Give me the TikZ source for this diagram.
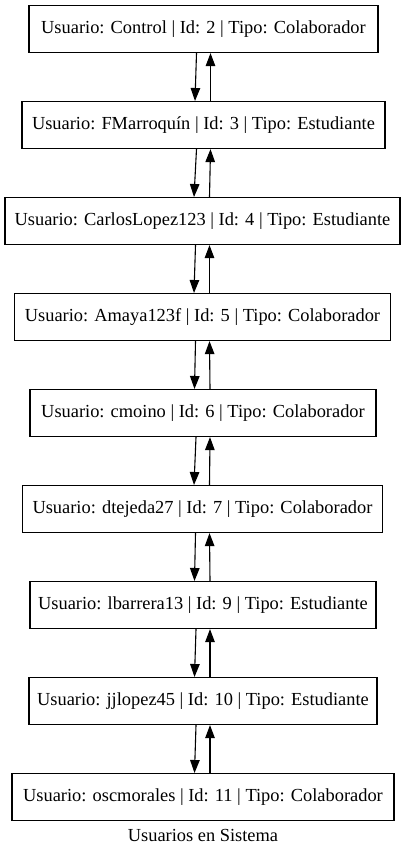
\documentclass[tikz,border=0pt]{standalone}
\usepackage{fontspec}
\setmainfont{Liberation Serif}
\usetikzlibrary{arrows.meta}
\begin{document}
\begin{tikzpicture}[x=1pt,y=-1pt,
  ubox/.style={draw=black, line width=1.1pt, minimum height=47pt, inner sep=0pt, font=\fontsize{18.4}{20}\selectfont, anchor=north},
  link/.style={line width=1.1pt, -{Triangle[length=13pt,width=9.5pt]}}]
\useasboundingbox (0,0) rectangle (405,857);
\node[ubox, minimum width=349pt] (n1) at (203.5,5) {Usuario: Control | Id: 2 | Tipo: Colaborador};
\node[ubox, minimum width=363pt] (n2) at (203.5,101) {Usuario: FMarroquín | Id: 3 | Tipo: Estudiante};
\node[ubox, minimum width=395pt] (n3) at (202.5,197) {Usuario: CarlosLopez123 | Id: 4 | Tipo: Estudiante};
\node[ubox, minimum width=376pt] (n4) at (202.5,293) {Usuario: Amaya123f | Id: 5 | Tipo: Colaborador};
\node[ubox, minimum width=346pt] (n5) at (203,389) {Usuario: cmoino | Id: 6 | Tipo: Colaborador};
\node[ubox, minimum width=360pt] (n6) at (202.5,485) {Usuario: dtejeda27 | Id: 7 | Tipo: Colaborador};
\node[ubox, minimum width=346pt] (n7) at (203,581) {Usuario: lbarrera13 | Id: 9 | Tipo: Estudiante};
\node[ubox, minimum width=348pt] (n8) at (203,677) {Usuario: jjlopez45 | Id: 10 | Tipo: Estudiante};
\node[ubox, minimum width=382pt] (n9) at (203,773) {Usuario: oscmorales | Id: 11 | Tipo: Colaborador};
\node[font=\fontsize{18.4}{20}\selectfont, inner sep=0pt] (cap) at (203,835) {Usuarios en Sistema};
\foreach \a/\b in {n1/n2,n2/n3,n3/n4,n4/n5,n5/n6,n6/n7,n7/n8,n8/n9}{
  \draw[link] ([xshift=-7pt]\a.south) -- ([xshift=-8.5pt]\b.north);
  \draw[link] ([xshift=7pt]\b.north) -- ([xshift=7pt]\a.south);
}
\end{tikzpicture}
\end{document}
